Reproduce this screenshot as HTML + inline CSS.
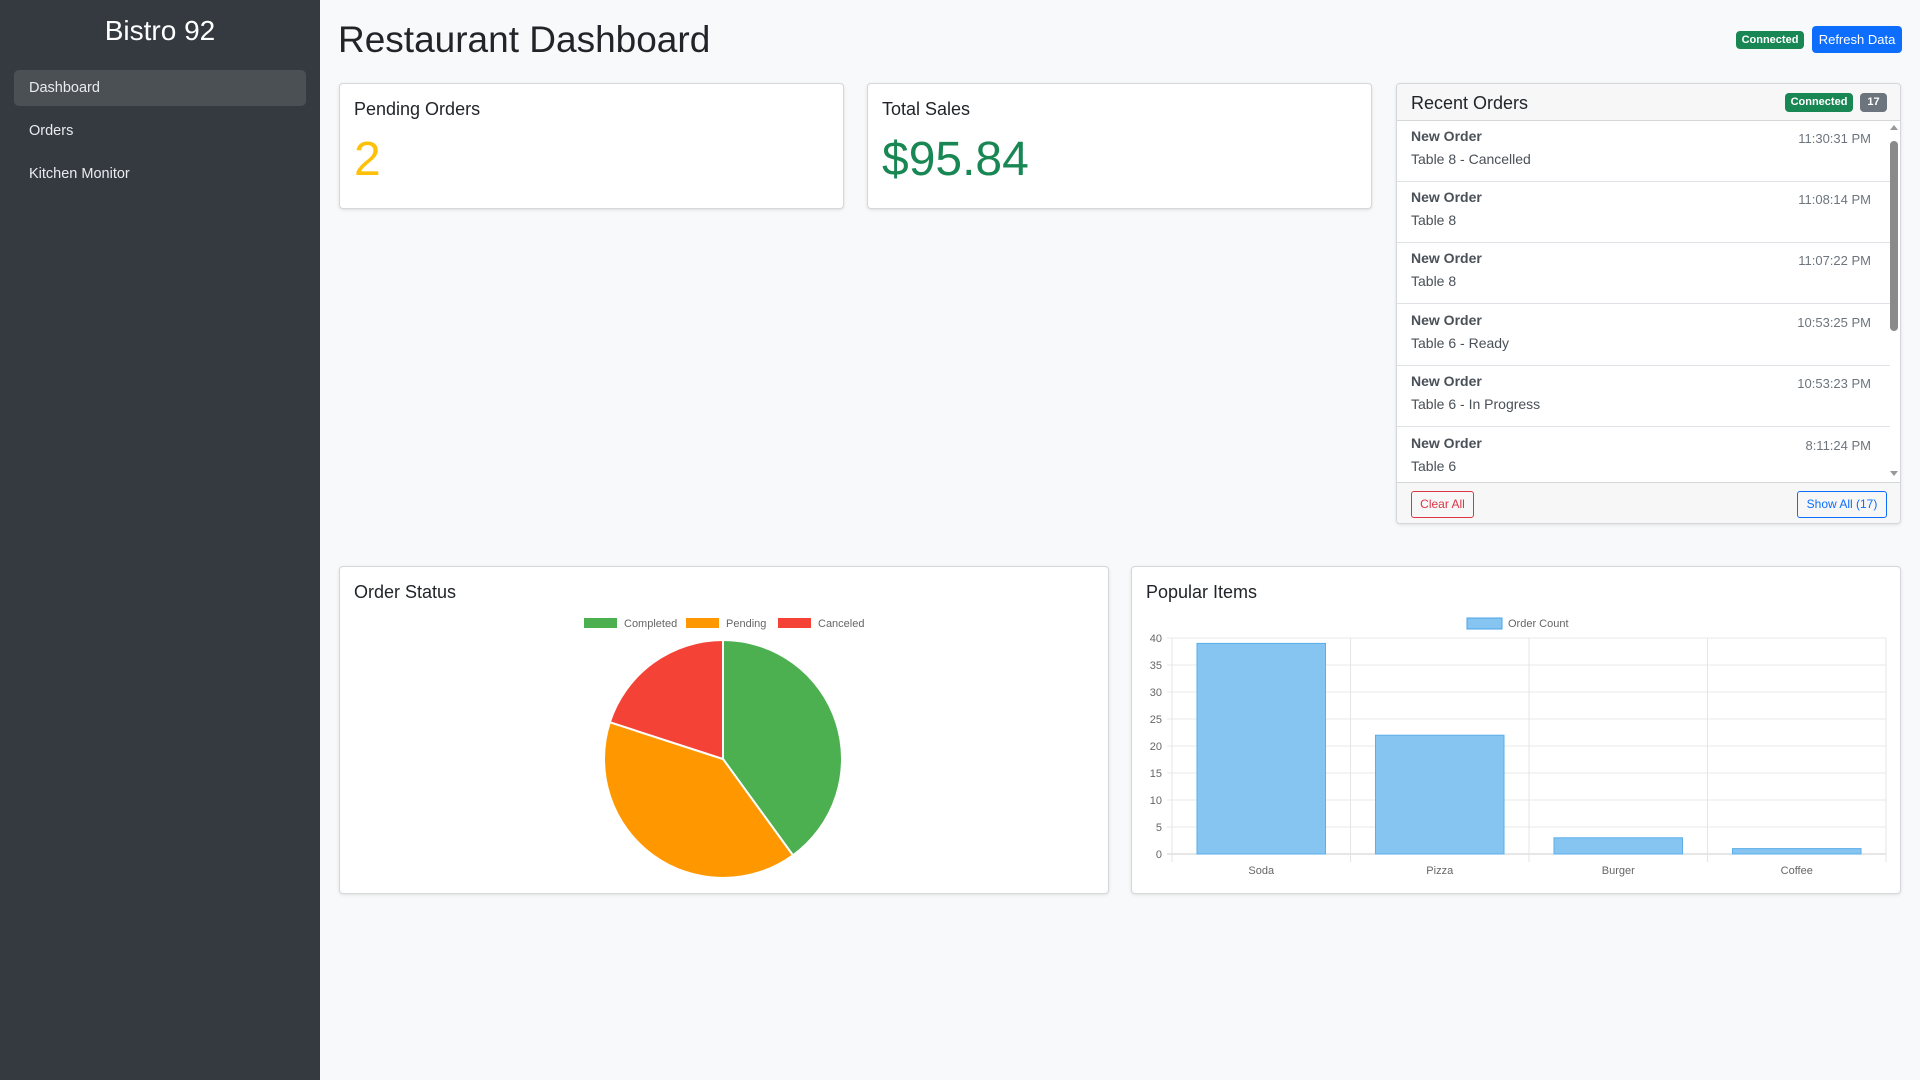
<!DOCTYPE html>
<html><head><meta charset="utf-8">
<style>
*{box-sizing:border-box;margin:0;padding:0}
body{width:1920px;height:1080px;background:#f8f9fa;font-family:"Liberation Sans",sans-serif;position:relative;overflow:hidden;color:#212529}
.abs{position:absolute}
#side{left:0;top:0;width:320px;height:1080px;background:#343a40}
.brand{left:0;width:320px;top:15px;text-align:center;color:#fff;font-size:28px}
.nav{left:14px;width:292px;height:36px;border-radius:5px;color:#e9ecef;font-size:14.5px;line-height:36px;padding-left:15px}
.card{background:#fff;border:1px solid #d5d7da;border-radius:4px;box-shadow:0 1px 3px rgba(0,0,0,.1)}
.ctitle{font-size:18px;color:#212529}
.badge{background:#198754;color:#fff;font-weight:bold;font-size:11px;border-radius:4px;text-align:center}
.item{left:0;width:493px;height:61px;border-bottom:1px solid #dee2e6}
.item .t{position:absolute;left:14px;top:7px;font-size:14px;font-weight:bold;color:#495057}
.item .s{position:absolute;left:14px;top:30px;font-size:14px;color:#495057}
.item .tm{position:absolute;right:19px;top:10px;font-size:13px;color:#6c757d}
svg text{font-family:"Liberation Sans",sans-serif}
</style></head><body>
<div id="side" class="abs">
<div class="abs brand">Bistro 92</div>
<div class="abs nav" style="top:70px;background:#4b5055">Dashboard</div>
<div class="abs nav" style="top:113px">Orders</div>
<div class="abs nav" style="top:156px">Kitchen Monitor</div>
</div>
<div class="abs" style="left:338px;top:19px;font-size:37px;color:#212529">Restaurant Dashboard</div>
<div class="abs badge" style="left:1736px;top:31px;width:68px;height:18px;line-height:18px">Connected</div>
<div class="abs" style="left:1812px;top:26px;width:90px;height:27px;background:#0d6efd;color:#fff;border-radius:4px;font-size:13px;line-height:27px;text-align:center">Refresh Data</div>

<div class="abs card" style="left:339px;top:83px;width:505px;height:126px">
<div class="abs ctitle" style="left:14px;top:15px">Pending Orders</div>
<div class="abs" style="left:14px;top:48px;font-size:48px;color:#ffc107">2</div>
</div>
<div class="abs card" style="left:867px;top:83px;width:505px;height:126px">
<div class="abs ctitle" style="left:14px;top:15px">Total Sales</div>
<div class="abs" style="left:14px;top:48px;font-size:48px;color:#198754">$95.84</div>
</div>

<div class="abs card" style="left:1396px;top:83px;width:505px;height:441px;overflow:hidden">
<div class="abs" style="left:0;top:0;width:505px;height:37px;background:#f7f7f7;border-bottom:1px solid #d5d7da">
<div class="abs ctitle" style="left:14px;top:9px">Recent Orders</div>
<div class="abs badge" style="left:388px;top:9px;width:68px;height:19px;line-height:19px">Connected</div>
<div class="abs badge" style="left:463px;top:9px;width:27px;height:19px;line-height:19px;background:#6c757d">17</div>
</div>
<div class="abs" style="left:0;top:37px;width:505px;height:361px;overflow:hidden">
<div class="abs item" style="top:0"><span class="t">New Order</span><span class="s">Table 8 - Cancelled</span><span class="tm">11:30:31 PM</span></div>
<div class="abs item" style="top:61px"><span class="t">New Order</span><span class="s">Table 8</span><span class="tm">11:08:14 PM</span></div>
<div class="abs item" style="top:122px"><span class="t">New Order</span><span class="s">Table 8</span><span class="tm">11:07:22 PM</span></div>
<div class="abs item" style="top:184px"><span class="t">New Order</span><span class="s">Table 6 - Ready</span><span class="tm">10:53:25 PM</span></div>
<div class="abs item" style="top:245px"><span class="t">New Order</span><span class="s">Table 6 - In Progress</span><span class="tm">10:53:23 PM</span></div>
<div class="abs item" style="top:307px"><span class="t">New Order</span><span class="s">Table 6</span><span class="tm">8:11:24 PM</span></div>
<div class="abs" style="left:493px;top:20px;width:8px;height:190px;background:#8a8a8a;border-radius:4px"></div>
<div class="abs" style="left:493px;top:4px;width:0;height:0;border-left:4px solid transparent;border-right:4px solid transparent;border-bottom:5px solid #999"></div>
<div class="abs" style="left:493px;top:350px;width:0;height:0;border-left:4px solid transparent;border-right:4px solid transparent;border-top:5px solid #999"></div>
</div>
<div class="abs" style="left:0;top:398px;width:505px;height:43px;background:#f7f7f7;border-top:1px solid #d5d7da">
<div class="abs" style="left:14px;top:8px;width:63px;height:27px;border:1px solid #dc3545;color:#dc3545;border-radius:3px;font-size:12px;line-height:25px;text-align:center">Clear All</div>
<div class="abs" style="left:400px;top:8px;width:90px;height:27px;border:1px solid #0d6efd;color:#0d6efd;border-radius:3px;font-size:12px;line-height:25px;text-align:center">Show All (17)</div>
</div>
</div>

<div class="abs card" style="left:339px;top:566px;width:770px;height:328px">
<div class="abs ctitle" style="left:14px;top:15px">Order Status</div>
<svg id="pie" class="abs" style="left:0;top:0" width="770" height="328"></svg>
</div>
<div class="abs card" style="left:1131px;top:566px;width:770px;height:328px">
<div class="abs ctitle" style="left:14px;top:15px">Popular Items</div>
<svg id="bar" class="abs" style="left:0;top:0" width="770" height="328"></svg>
</div>

<script>
const statusLabels=["Completed","Pending","Canceled"];
const statusValues=[6,6,3];
const statusColors=["#4caf50","#ff9800","#f44336"];
const itemLabels=["Soda","Pizza","Burger","Coffee"];
const itemCounts=[39,22,3,1];
const yTicks=[0,5,10,15,20,25,30,35,40];
const NS="http://www.w3.org/2000/svg";
function mk(svg,tag,attrs,txt){const e=document.createElementNS(NS,tag);for(const k in attrs)e.setAttribute(k,attrs[k]);if(txt!==undefined)e.textContent=txt;svg.appendChild(e);return e;}

const pie=document.getElementById('pie');
const legX=[244,346,438];
statusLabels.forEach((l,i)=>{
  const x=legX[i];
  const r=mk(pie,'rect',{x:x,y:51,width:33,height:10,fill:statusColors[i]});
  
  
  const t=mk(pie,'text',{x:x+40,y:60,'font-size':11,fill:'#666'},l);
  
  
});
const cx=383,cy=192,R=119;
const total=statusValues.reduce((a,b)=>a+b,0);
let a0=-Math.PI/2;
statusValues.forEach((v,i)=>{
  const a1=a0+v/total*2*Math.PI;
  const large=(a1-a0)>Math.PI?1:0;
  const d=`M${cx},${cy} L${cx+R*Math.cos(a0)},${cy+R*Math.sin(a0)} A${R},${R} 0 ${large} 1 ${cx+R*Math.cos(a1)},${cy+R*Math.sin(a1)} Z`;
  const p=mk(pie,'path',{d:d,fill:statusColors[i],stroke:'#fff','stroke-width':2});
  
  
  a0=a1;
});

const bar=document.getElementById('bar');
const L=40,Rt=754,T=71,B=287,ymax=40;
const yS=v=>B-(v/ymax)*(B-T);
const cw=(Rt-L)/itemLabels.length;
const lr=mk(bar,'rect',{x:335,y:51,width:35,height:11,fill:'#86c5f1',stroke:'#4aa3e8'});


const lt=mk(bar,'text',{x:376,y:60,'font-size':11,fill:'#666'},'Order Count');


yTicks.forEach(v=>{
  const y=yS(v);
  mk(bar,'line',{x1:L-5,x2:Rt,y1:y,y2:y,stroke:v===0?'#ccc':'#e8e8e8','stroke-width':1});
  const t=mk(bar,'text',{x:L-10,y:y+4,'font-size':11,fill:'#666','text-anchor':'end'},v);
  
  
});
for(let i=0;i<=itemLabels.length;i++){
  const x=L+i*cw;
  mk(bar,'line',{x1:x,x2:x,y1:T,y2:B+8,stroke:'#e5e5e5','stroke-width':1});
}
itemLabels.forEach((l,i)=>{
  const bw=cw*0.72;
  const x=L+i*cw+(cw-bw)/2;
  const r=mk(bar,'rect',{x:x,y:yS(itemCounts[i]),width:bw,height:B-yS(itemCounts[i]),fill:'#86c5f1',stroke:'#5aaee9','stroke-width':1});
  
  
  const t=mk(bar,'text',{x:L+i*cw+cw/2,y:B+20,'font-size':11,fill:'#666','text-anchor':'middle'},l);
  
  
});
</script>
</body></html>
